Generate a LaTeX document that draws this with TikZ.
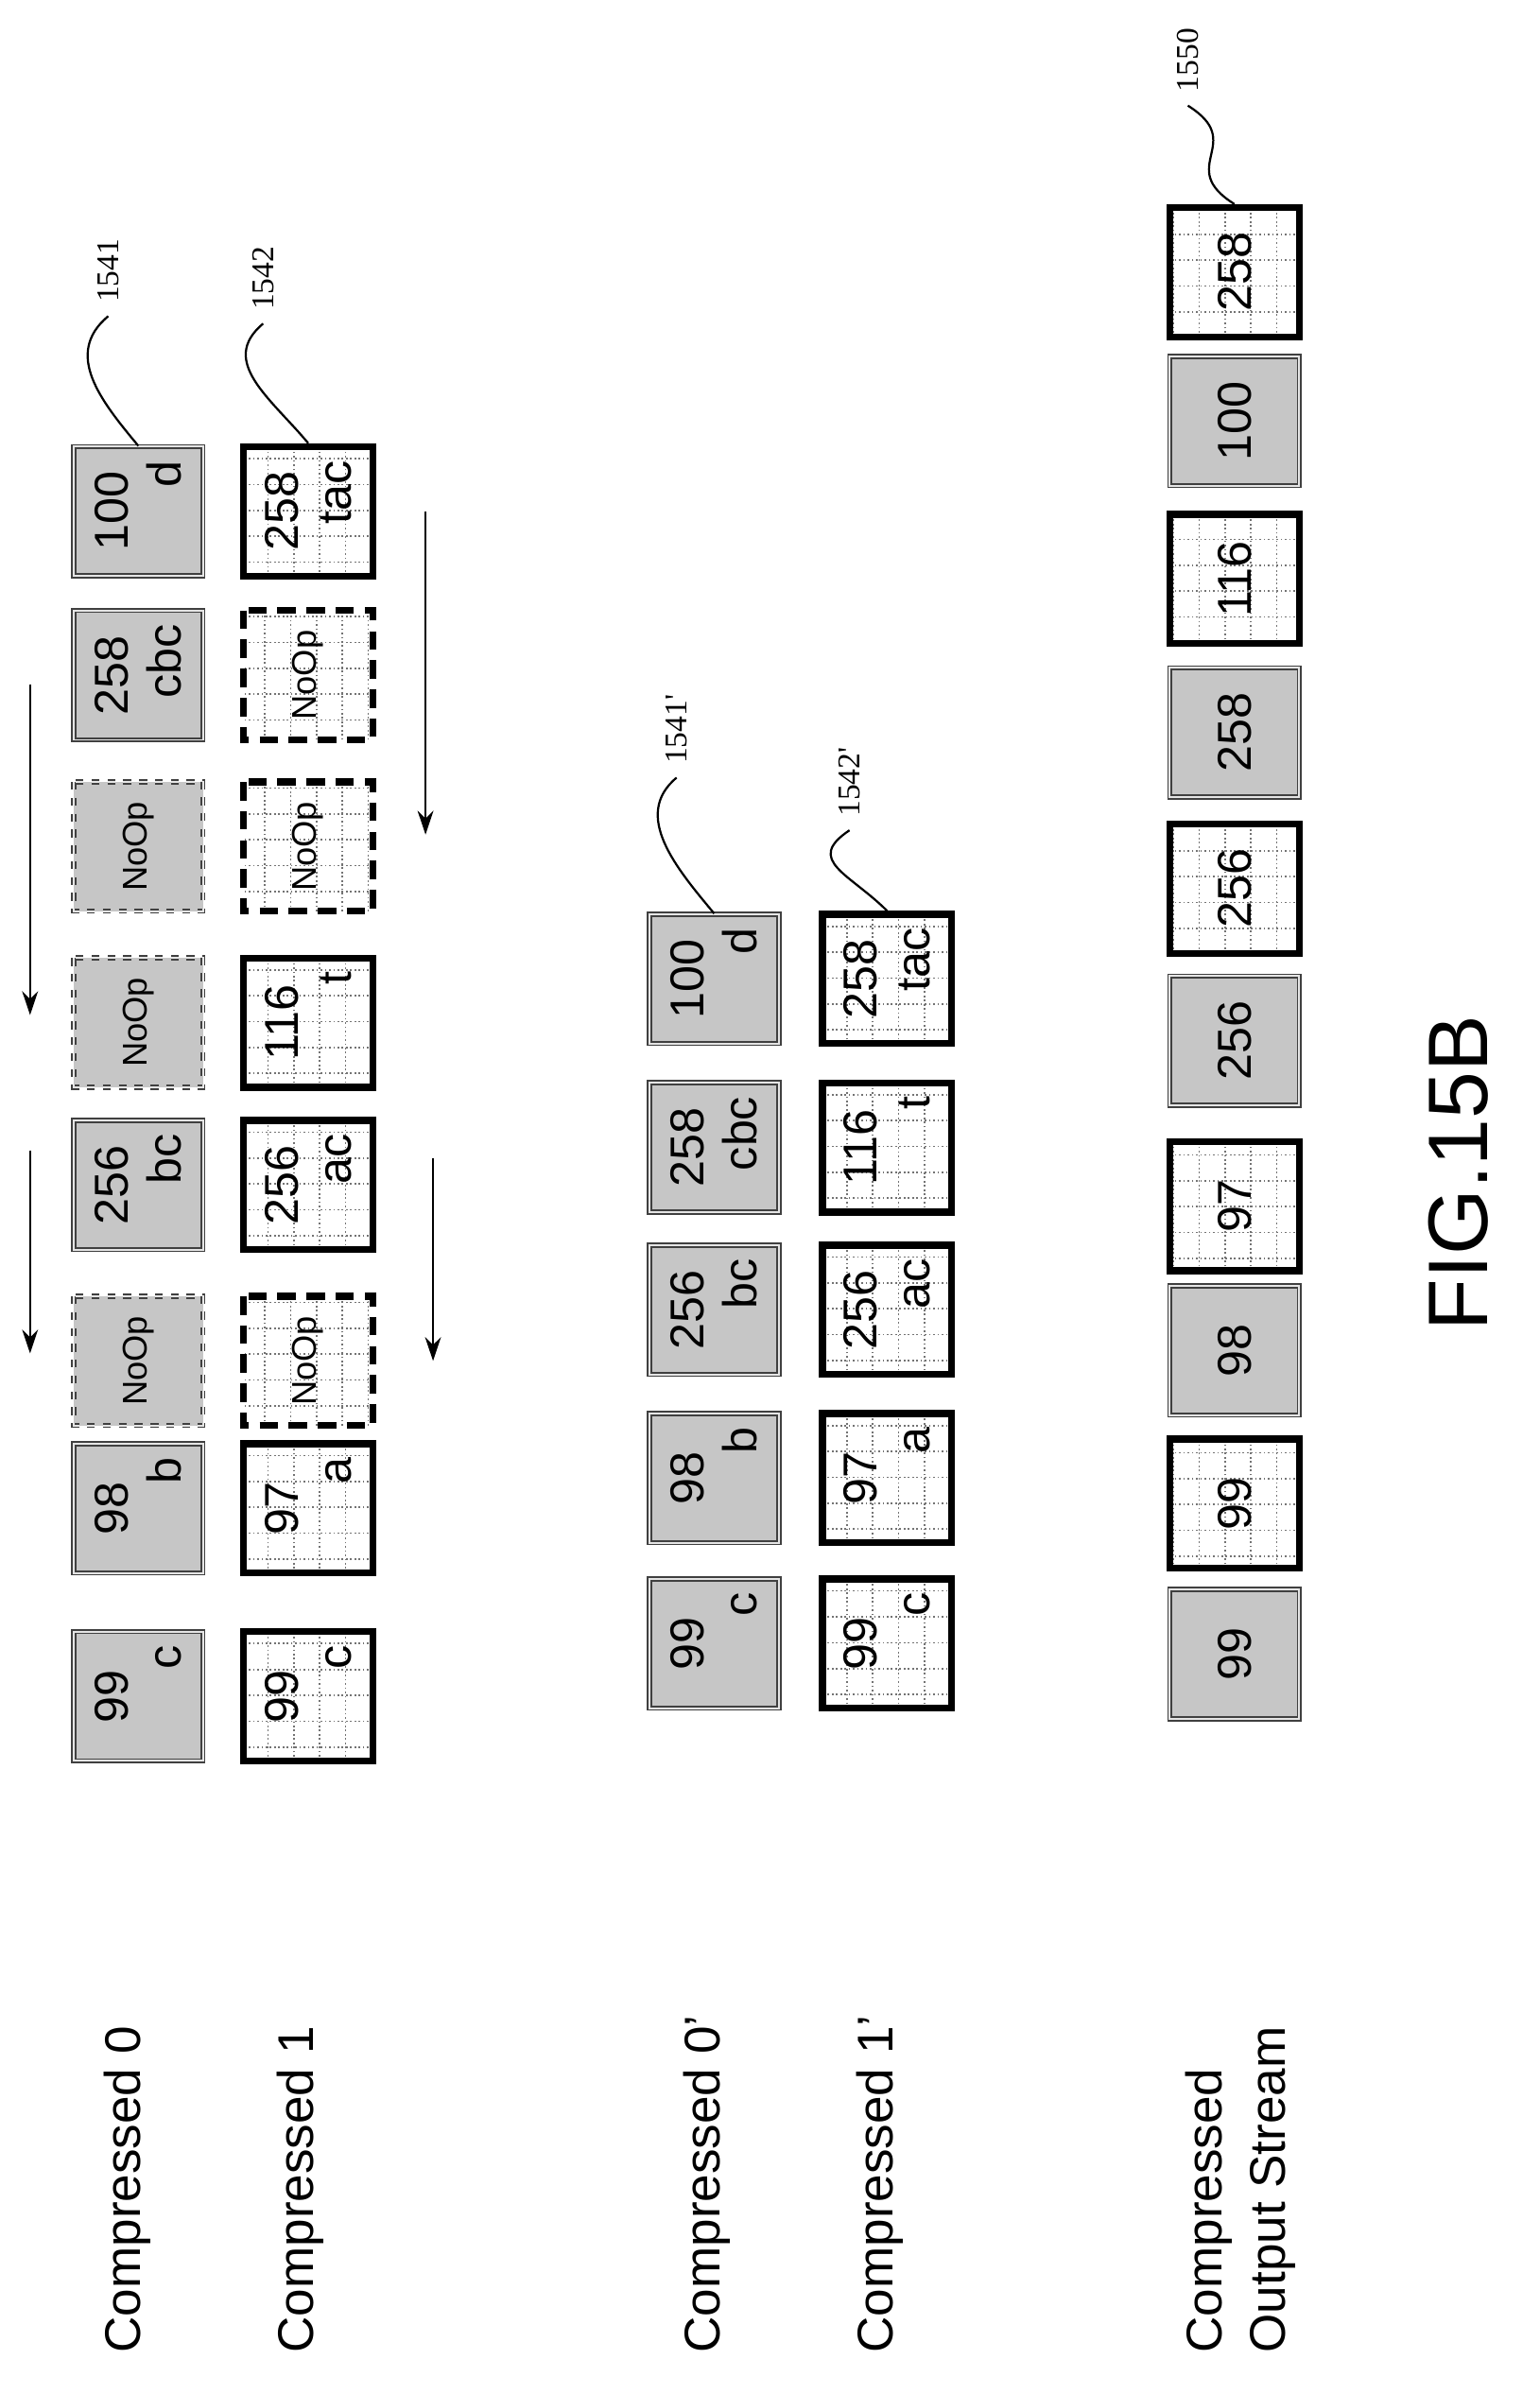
\documentclass[tikz,border=0pt]{standalone}
\usepackage{fontspec}
\setmainfont{Liberation Sans}
\newfontfamily\reffont{Liberation Serif}
\usetikzlibrary{arrows.meta}

\newcommand{\cellt}[2]{\parbox{1.35cm}{\makebox[1.35cm]{#1}\\[1pt]\makebox[1.35cm][r]{#2}}}

\tikzset{
  cell/.style={minimum size=1.72cm, rotate=90, inner sep=0pt, font=\fontsize{18}{19}\selectfont},
  gcell/.style={cell, fill=gray!45, draw=black!75, line width=0.6pt, double=gray!20, double distance=0.7pt},
  wcell/.style={cell, fill=white, draw=black, line width=2.6pt,
    path picture={\draw[black!55, densely dotted, line width=0.6pt, step=0.344cm]
      (path picture bounding box.south west) grid (path picture bounding box.north east);}},
  gdash/.style={gcell, dashed},
  wdash/.style={wcell, dash pattern=on 7pt off 4pt},
  noop/.style={font=\fontsize{13}{14}\selectfont},
  lbl/.style={rotate=90, anchor=west, inner sep=0pt, font=\fontsize{19}{24}\selectfont, align=left},
  refn/.style={rotate=90, inner sep=1pt, font=\reffont\fontsize{12}{13}\selectfont},
  lead/.style={line width=0.8pt},
  arr/.style={line width=0.9pt, -{Stealth[length=9pt,width=6pt]}}
}

\begin{document}
\begin{tikzpicture}[x=0.02cm, y=-0.02cm]
  \useasboundingbox (0,0) rectangle (1024,1592);

  % row labels
  \node[lbl] (lc0) at (85,1565) {Compressed 0};
  \node[lbl] (lc1) at (200,1565) {Compressed 1};
  \node[lbl] (lc0p) at (470,1565) {Compressed 0'};
  \node[lbl] (lc1p) at (585,1565) {Compressed 1'};
  \node[lbl] (lout) at (825,1565) {Compressed\\Output Stream};

  % Compressed 0
  \node[gcell] (a1) at (92,1128) {\cellt{99}{c}};
  \node[gcell] (a2) at (92,1003) {\cellt{98}{b}};
  \node[gdash, noop] (a3) at (92,905) {NoOp};
  \node[gcell] (a4) at (92,788) {\cellt{256}{bc}};
  \node[gdash, noop] (a5) at (92,680) {NoOp};
  \node[gdash, noop] (a6) at (92,563) {NoOp};
  \node[gcell] (a7) at (92,449) {\cellt{258}{cbc}};
  \node[gcell] (a8) at (92,340) {\cellt{100}{d}};

  % Compressed 1
  \node[wcell] (b1) at (205,1128) {\cellt{99}{c}};
  \node[wcell] (b2) at (205,1003) {\cellt{97}{a}};
  \node[wdash, noop] (b3) at (205,905) {NoOp};
  \node[wcell] (b4) at (205,788) {\cellt{256}{ac}};
  \node[wcell] (b5) at (205,680) {\cellt{116}{t}};
  \node[wdash, noop] (b6) at (205,563) {NoOp};
  \node[wdash, noop] (b7) at (205,449) {NoOp};
  \node[wcell] (b8) at (205,340) {\cellt{258}{tac}};

  % shift arrows
  \coordinate (s1) at (20,765); \coordinate (e1) at (20,900);
  \coordinate (s2) at (20,455); \coordinate (e2) at (20,675);
  \coordinate (s3) at (288,770); \coordinate (e3) at (288,905);
  \coordinate (s4) at (283,340); \coordinate (e4) at (283,555);
  \foreach \i in {1,...,4} \draw[arr] (s\i) -- (e\i);

  % Compressed 0'
  \node[gcell] (c1) at (475,1093) {\cellt{99}{c}};
  \node[gcell] (c2) at (475,983) {\cellt{98}{b}};
  \node[gcell] (c3) at (475,871) {\cellt{256}{bc}};
  \node[gcell] (c4) at (475,763) {\cellt{258}{cbc}};
  \node[gcell] (c5) at (475,651) {\cellt{100}{d}};

  % Compressed 1'
  \node[wcell] (d1) at (590,1093) {\cellt{99}{c}};
  \node[wcell] (d2) at (590,983) {\cellt{97}{a}};
  \node[wcell] (d3) at (590,871) {\cellt{256}{ac}};
  \node[wcell] (d4) at (590,763) {\cellt{116}{t}};
  \node[wcell] (d5) at (590,651) {\cellt{258}{tac}};

  % output stream
  \node[gcell] (o1) at (821,1100) {99};
  \node[wcell] (o2) at (821,1000) {99};
  \node[gcell] (o3) at (821,898) {98};
  \node[wcell] (o4) at (821,802) {97};
  \node[gcell] (o5) at (821,692) {256};
  \node[wcell] (o6) at (821,591) {256};
  \node[gcell] (o7) at (821,487) {258};
  \node[wcell] (o8) at (821,385) {116};
  \node[gcell] (o9) at (821,280) {100};
  \node[wcell] (o10) at (821,181) {258};

  % reference numerals
  \node[refn] (n1541) at (72,180) {1541};
  \node[refn] (n1542) at (175,185) {1542};
  \node[refn] (n1541p) at (450,485) {1541'};
  \node[refn] (n1542p) at (565,520) {1542'};
  \node[refn] (n1550) at (790,40) {1550};
  \draw[lead] ([yshift=-4pt]n1541.west) .. controls +(-30,25) and +(-25,-30) .. (a8.east);
  \draw[lead] ([yshift=-4pt]n1542.west) .. controls +(-30,25) and +(-25,-30) .. (b8.east);
  \draw[lead] ([yshift=-4pt]n1541p.west) .. controls +(-30,25) and +(-25,-30) .. (c5.east);
  \draw[lead] ([yshift=-4pt]n1542p.west) .. controls +(-30,20) and +(-25,-25) .. (d5.east);
  \draw[lead] ([yshift=-4pt]n1550.west) .. controls +(40,25) and +(-40,-25) .. (o10.east);

  \node[rotate=90, font=\fontsize{32}{36}\selectfont] (fig) at (970,780) {FIG.15B};
\end{tikzpicture}
\end{document}
